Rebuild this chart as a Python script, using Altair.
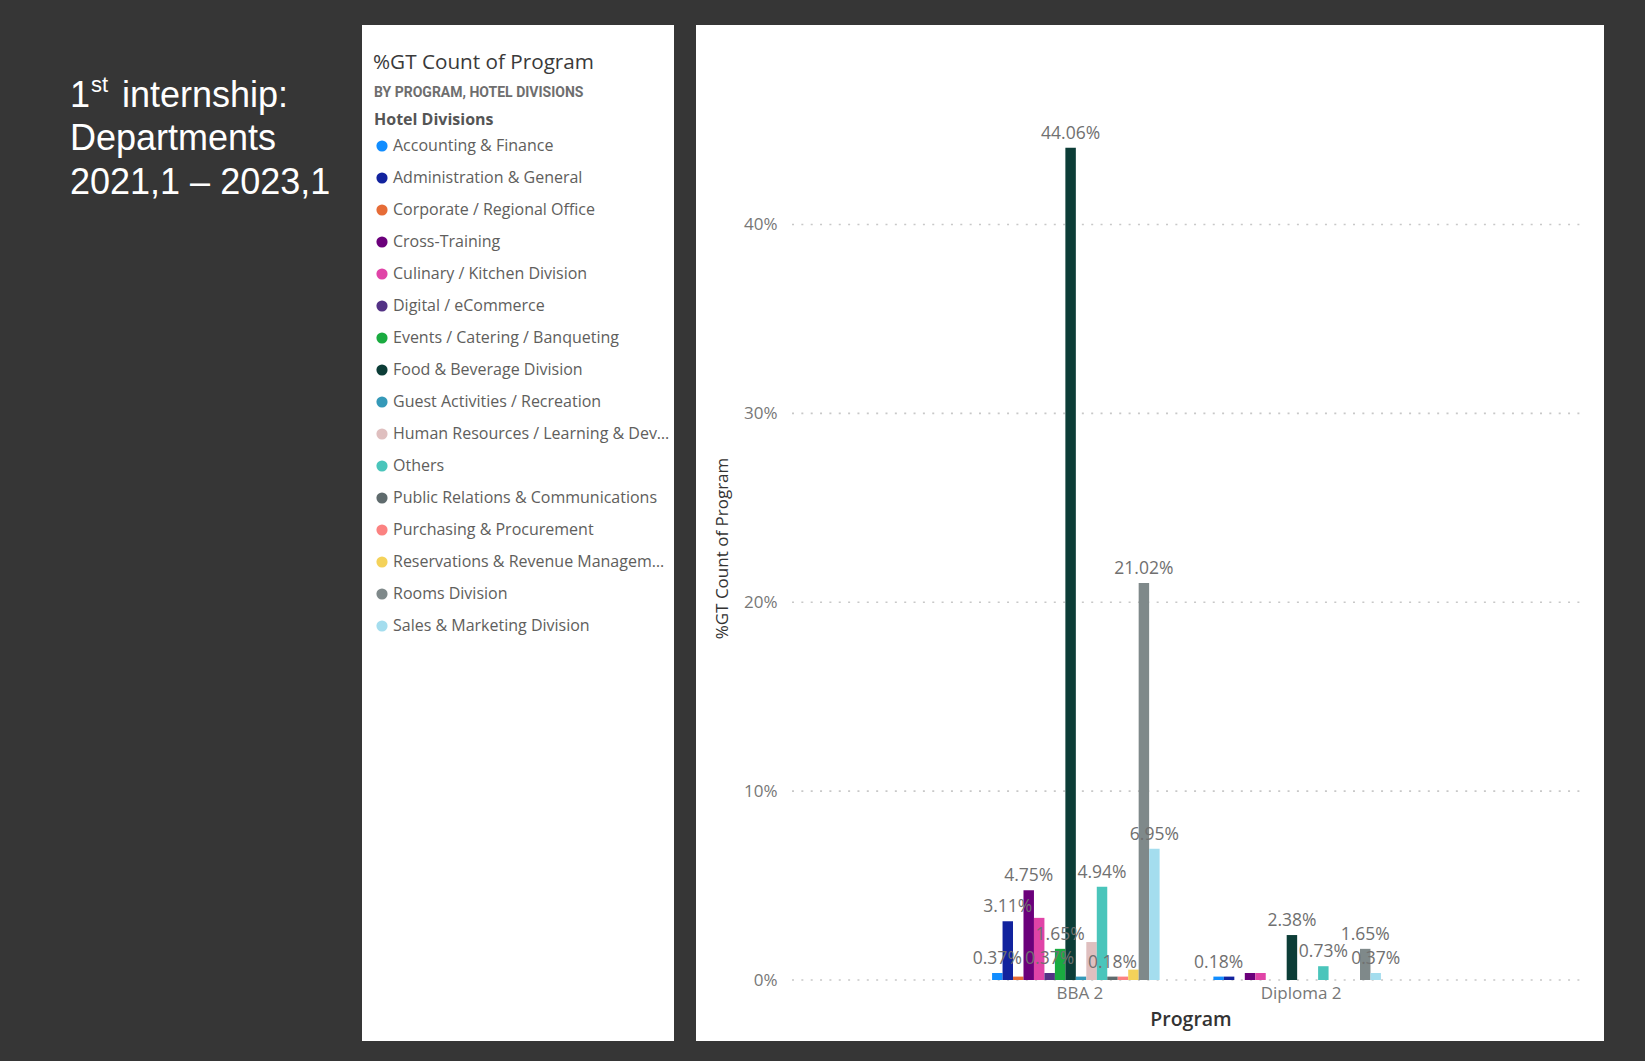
import altair as alt
import pandas as pd

# ---------------- data ----------------
programs = ["BBA 2", "Diploma 2"]
divisions = [
    "Accounting & Finance",
    "Administration & General",
    "Corporate / Regional Office",
    "Cross-Training",
    "Culinary / Kitchen Division",
    "Digital / eCommerce",
    "Events / Catering / Banqueting",
    "Food & Beverage Division",
    "Guest Activities / Recreation",
    "Human Resources / Learning & Development",
    "Others",
    "Public Relations & Communications",
    "Purchasing & Procurement",
    "Reservations & Revenue Management",
    "Rooms Division",
    "Sales & Marketing Division",
]
colors = [
    "#118DFF", "#12239E", "#E66C37", "#6B007B", "#E044A7", "#533285",
    "#1AAB40", "#0C3D37", "#3599B8", "#DFBFBF", "#4AC5BB", "#5F6B6D",
    "#FB8281", "#F4D25A", "#7F898A", "#A4DDEE",
]
# % of grand total
bba_values = [0.37, 3.11, 0.18, 4.75, 3.29, 0.37, 1.65, 44.06,
              0.18, 2.01, 4.94, 0.18, 0.18, 0.55, 21.02, 6.95]
diploma_values = [0.18, 0.18, 0, 0.37, 0.37, 0, 0, 2.38,
                  0, 0, 0.73, 0, 0, 0, 1.65, 0.37]
# which data labels are visible in the reference
bba_labelled = [1, 1, 0, 1, 0, 1, 1, 1, 0, 0, 1, 1, 0, 0, 1, 1]
diploma_labelled = [1, 0, 0, 0, 0, 0, 0, 1, 0, 0, 1, 0, 0, 0, 1, 1]
y_ticks = [0, 10, 20, 30, 40]

rows = []
for prog, vals, shown in ((programs[0], bba_values, bba_labelled),
                          (programs[1], diploma_values, diploma_labelled)):
    for d, v, s in zip(divisions, vals, shown):
        if v > 0:
            rows.append({"Program": prog, "Division": d, "Pct": v, "Shown": s})
df = pd.DataFrame(rows)
one = pd.DataFrame({"k": [0]})

FONT = "Open Sans"
W, H = 789, 850
OX, OY = 792, 130  # plot origin on the page

x_enc = alt.X(
    "Program:N",
    sort=programs,
    scale=alt.Scale(domain=programs, paddingInner=0.243, paddingOuter=0.904),
    title="Program",
    axis=alt.Axis(
        labelAngle=0, domain=False, ticks=False, tickSize=0, grid=False,
        labelPadding=5, labelOffset=4, labelFontSize=17, labelColor="#777777",
        labelFont=FONT,
        titleFontSize=19.5, titleFontWeight=600, titleColor="#333333", titleFont=FONT,
        titleX=398.5, titleAlign="center", titleY=39, titleBaseline="middle",
        zindex=1,
    ),
)
xo_enc = alt.XOffset(
    "Division:N", sort=divisions,
    scale=alt.Scale(domain=divisions, paddingInner=0, paddingOuter=0),
)
y_enc = alt.Y(
    "Pct:Q",
    scale=alt.Scale(domain=[0, 45], nice=False, zero=True),
    title="%GT Count of Program",
    axis=alt.Axis(
        values=y_ticks, labelExpr="datum.value + '%'", grid=False, domain=False,
        ticks=False, tickSize=0, labelPadding=15, labelFontSize=17,
        labelColor="#777777", labelFont=FONT,
        titleFontSize=17, titleColor="#333333", titleFontWeight="normal", titleFont=FONT,
        titleX=-70, titleY=418, titleAngle=270, titleBaseline="middle",
        titleAlign="center", zindex=1,
    ),
)
color_enc = alt.Color(
    "Division:N",
    sort=divisions,
    scale=alt.Scale(domain=divisions, range=colors),
    title="Hotel Divisions",
    legend=alt.Legend(
        orient="none", legendX=-418, legendY=-18, padding=0,
        titleFontSize=16, titleFontWeight="bold", titleColor="#555555", titleFont=FONT,
        titlePadding=10, labelFontSize=16, labelColor="#605E5C", labelFont=FONT,
        symbolType="circle", symbolSize=125, symbolStrokeWidth=0, symbolOpacity=1,
        rowPadding=16, labelOffset=3, labelLimit=279,
    ),
)

# panels
legend_panel = alt.Chart(one).mark_rect(color="white").encode(
    x=alt.value(362 - OX), x2=alt.value(674 - OX),
    y=alt.value(25 - OY), y2=alt.value(1041 - OY),
)
chart_panel = alt.Chart(one).mark_rect(color="white").encode(
    x=alt.value(696 - OX), x2=alt.value(1604 - OX),
    y=alt.value(25 - OY), y2=alt.value(1041 - OY),
)

grid = alt.Chart(pd.DataFrame({"Pct": y_ticks})).mark_rule(
    color="#c8c8c8", strokeWidth=1.6, strokeDash=[2, 7.35]
).encode(y=y_enc, x=alt.value(0), x2=alt.value(W))

bars = alt.Chart(df).mark_bar().encode(
    x=x_enc, xOffset=xo_enc, y=y_enc, color=color_enc,
)

labels = alt.Chart(df).transform_filter("datum.Shown == 1").transform_calculate(
    lbl="format(datum.Pct, '.2f') + '%'"
).mark_text(
    baseline="alphabetic", dy=-9, fontSize=17.5, color="#707070", font=FONT
).encode(x=x_enc, xOffset=xo_enc, y=y_enc, text="lbl:N")


def txt(s, x, y, size, color, weight="normal", font=FONT):
    return alt.Chart(one).mark_text(
        text=s, align="left", baseline="alphabetic", fontSize=size,
        color=color, fontWeight=weight, font=font,
    ).encode(x=alt.value(x - OX), y=alt.value(y - OY))


SLIDE_FONT = "Liberation Sans"
slide_texts = [
    txt("1", 70, 106.7, 36, "white", font=SLIDE_FONT),
    txt("st", 91, 92, 22, "white", font=SLIDE_FONT),
    txt("internship:", 122, 106.7, 36, "white", font=SLIDE_FONT),
    txt("Departments", 70, 150, 36, "white", font=SLIDE_FONT),
    txt("2021,1 \u2013 2023,1", 70, 194, 36, "white", font=SLIDE_FONT),
    txt("%GT Count of Program", 373, 69.3, 20.7, "#3a3a3a"),
    txt("BY PROGRAM, HOTEL DIVISIONS", 374, 97.3, 14, "#6e6e6e", "bold", "Roboto"),
]

chart = alt.layer(
    legend_panel, chart_panel, grid, bars, labels, *slide_texts
).properties(
    width=W, height=H,
    padding={"left": OX, "top": OY, "right": 1645 - OX - W, "bottom": 1061 - OY - H},
    autosize=alt.AutoSizeParams(type="none"),
    background="#363636",
).configure_view(strokeWidth=0)

chart.save("out.html", embed_options={"renderer": "svg", "actions": False})
